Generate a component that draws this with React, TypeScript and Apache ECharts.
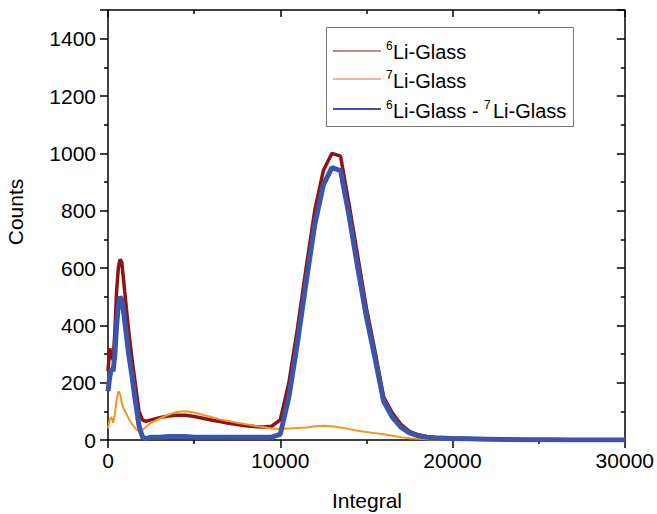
import React, { useEffect, useRef } from "react";
import * as echarts from "echarts";

const xs = [0, 100, 200, 300, 400, 500, 600, 700, 800, 900, 1000, 1200, 1400, 1600, 1800, 2000, 2200, 2500, 3000, 3500, 4000, 4500, 5000, 5500, 6000, 6500, 7000, 7500, 8000, 8500, 9000, 9500, 10000, 10500, 11000, 11500, 12000, 12500, 13000, 13500, 14000, 14500, 15000, 15500, 16000, 16500, 17000, 17500, 18000, 18500, 19000, 20000, 21000, 22000, 23000, 24000, 25000, 26000, 27000, 28000, 29000, 30000];

const li6 = [240, 320, 290, 280, 380, 520, 600, 630, 620, 560, 500, 380, 280, 190, 100, 70, 65, 70, 78, 84, 86, 86, 82, 76, 70, 64, 58, 54, 50, 47, 45, 48, 70, 200, 390, 600, 800, 940, 1000, 990, 820, 640, 460, 310, 150, 95, 55, 30, 18, 12, 10, 7, 5, 4, 3, 2, 2, 1, 1, 1, 0, 0];

const li7 = [40, 70, 80, 60, 90, 140, 170, 160, 130, 110, 100, 75, 55, 40, 30, 35, 45, 60, 75, 88, 98, 100, 96, 88, 80, 72, 66, 60, 55, 50, 45, 40, 38, 40, 42, 44, 48, 50, 48, 44, 38, 32, 28, 24, 20, 15, 10, 6, 4, 3, 2, 2, 1, 1, 1, 0, 0, 0, 0, 0, 0, 0];

const diff = [170, 220, 250, 240, 300, 400, 470, 500, 490, 450, 400, 300, 220, 130, 50, 10, 5, 10, 10, 12, 12, 12, 10, 10, 10, 10, 10, 10, 10, 10, 10, 10, 20, 150, 340, 550, 750, 890, 950, 940, 780, 600, 430, 285, 135, 80, 45, 25, 15, 10, 7, 5, 4, 3, 2, 1, 1, 1, 0, 0, 0, 0];

const legendNames = ["Li-Glass", "Li-Glass", "Li-Glass - ", "Li-Glass"];
const xTitle = "Integral";
const yTitle = "Counts";
const FONT = "'Liberation Sans', Arial, sans-serif";

const C_RED = "#8B1414";
const C_ORANGE = "#F7931E";
const C_PINK = "#F49494";
const C_BLUE = "#3D55A8";

function pairs(ys: number[]) {
  return xs.map((x, i) => [x, ys[i]]);
}

export default function App() {
  const ref = useRef<HTMLDivElement>(null);
  useEffect(() => {
    if (!ref.current) return;
    const chart = echarts.init(ref.current, undefined, { renderer: "svg" });
    const axisLine = { show: true, onZero: false, lineStyle: { color: "#000", width: 1.5 } };
    const label = { fontSize: 21, color: "#000", fontFamily: FONT, formatter: (v: number) => String(v) };
    const tickStyle = { color: "#000", width: 1.5 };
    const txt = (x: number, y: number, t: string, size: number, extra: any = {}) => ({
      type: "text",
      x,
      y,
      z: 11,
      ...extra,
      style: { text: t, fontSize: size, fontFamily: FONT, fill: "#000", verticalAlign: "middle", ...(extra.style || {}) },
    });
    const legendLine = (y: number, color: string, w: number) => ({
      type: "line",
      z: 11,
      shape: { x1: 333, y1: y, x2: 381, y2: y },
      style: { stroke: color, lineWidth: w },
    });
    chart.setOption({
      animation: false,
      grid: { left: 108, right: 32, top: 10, bottom: 74 },
      xAxis: [
        {
          type: "value",
          min: 0,
          max: 30000,
          interval: 10000,
          position: "bottom",
          axisLine,
          axisTick: { length: 8, lineStyle: tickStyle },
          minorTick: { show: true, splitNumber: 2, length: 4, lineStyle: tickStyle },
          splitLine: { show: false },
          axisLabel: { ...label, margin: 10 },
        },
        {
          type: "value",
          min: 0,
          max: 30000,
          interval: 10000,
          position: "top",
          axisLine,
          axisTick: { inside: true, length: 7, lineStyle: tickStyle },
          minorTick: { show: true, splitNumber: 2, length: 4, lineStyle: tickStyle },
          splitLine: { show: false },
          axisLabel: { show: false },
        },
      ],
      yAxis: [
        {
          type: "value",
          min: 0,
          max: 1500,
          interval: 200,
          position: "left",
          axisLine,
          axisTick: { show: true, length: 8, lineStyle: tickStyle },
          minorTick: { show: true, splitNumber: 2, length: 4, lineStyle: tickStyle },
          splitLine: { show: false },
          axisLabel: { ...label, margin: 12, showMaxLabel: false },
        },
        {
          type: "value",
          min: 0,
          max: 1500,
          interval: 200,
          position: "right",
          axisLine,
          axisTick: { show: true, inside: true, length: 8, lineStyle: tickStyle },
          minorTick: { show: true, splitNumber: 2, length: 4, lineStyle: tickStyle },
          splitLine: { show: false },
          axisLabel: { show: false },
        },
      ],
      series: [
        {
          type: "line",
          data: pairs(li6),
          showSymbol: false,
          lineStyle: { color: C_RED, width: 3.5 },
          itemStyle: { color: C_RED },
        },
        {
          type: "line",
          data: pairs(li7),
          showSymbol: false,
          lineStyle: { color: C_ORANGE, width: 2 },
          itemStyle: { color: C_ORANGE },
        },
        {
          type: "line",
          data: pairs(diff),
          showSymbol: false,
          lineStyle: { color: C_BLUE, width: 5 },
          itemStyle: { color: C_BLUE },
        },
      ],
      graphic: [
        {
          type: "rect",
          z: 10,
          shape: { x: 326.5, y: 27.5, width: 247, height: 99 },
          style: { fill: "#fff", stroke: "#777", lineWidth: 1 },
        },
        legendLine(51, C_RED, 1),
        legendLine(79, C_PINK, 1.5),
        legendLine(109, C_BLUE, 2),
        txt(386, 46, "6", 12),
        txt(393, 52, legendNames[0], 20),
        txt(386, 75, "7", 12),
        txt(393, 81, legendNames[1], 20),
        txt(386, 105, "6", 12),
        txt(393, 111, legendNames[2], 20),
        txt(484, 105, "7", 12),
        txt(493, 111, legendNames[3], 20),
        txt(367, 500, xTitle, 21, { style: { align: "center" } }),
        txt(15, 212, yTitle, 21, { rotation: Math.PI / 2, style: { align: "center" } }),
      ],
    });
    return () => chart.dispose();
  }, []);
  return <div ref={ref} style={{ width: 657, height: 514, position: "absolute", left: 0, top: 0 }} />;
}
